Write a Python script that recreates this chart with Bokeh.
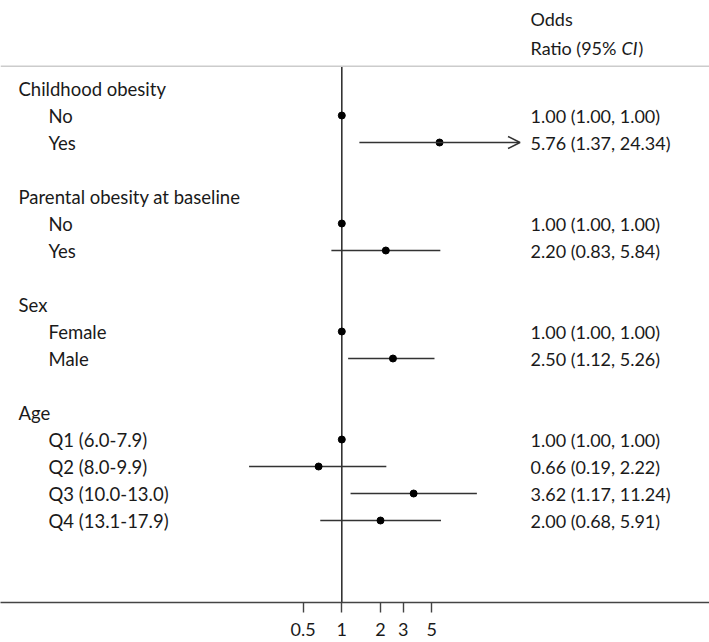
import math
from bokeh.plotting import figure
from bokeh.models import (Range1d, LinearScale, FixedTicker, NumeralTickFormatter,
                          ColumnDataSource, Arrow, OpenHead, Span)
from bokeh.core.properties import value
from bokeh.embed import file_html
from bokeh.resources import INLINE

# ---------------- data ----------------
groups = ["Childhood obesity", "Parental obesity at baseline", "Sex", "Age"]
levels = [["No", "Yes"],
          ["No", "Yes"],
          ["Female", "Male"],
          ["Q1 (6.0-7.9)", "Q2 (8.0-9.9)", "Q3 (10.0-13.0)", "Q4 (13.1-17.9)"]]
odds_ratio = [1.00, 5.76, 1.00, 2.20, 1.00, 2.50, 1.00, 0.66, 3.62, 2.00]
ci_low = [1.00, 1.37, 1.00, 0.83, 1.00, 1.12, 1.00, 0.19, 1.17, 0.68]
ci_high = [1.00, 24.34, 1.00, 5.84, 1.00, 5.26, 1.00, 2.22, 11.24, 5.91]
tick_values = [0.5, 1, 2, 3, 5]
axis_limit = 20  # intervals beyond this are drawn with an arrow

# ---------------- layout ----------------
W, H = 709, 642
FRAME_H = 602
ROW_PX = 27
FIRST_ROW_PX = 88
PX_PER_DOUBLING = 38.7
ONE_PX = 341.3
FONT = value("Lato")
FS = "18px"
FS_LEFT = "18.5px"
TXT = "#1a1a1a"
LINE = "#333333"

# build row structure
grp_rows, grp_names = [], []
lvl_rows, lvl_names = [], []
r = 0
for g, lv in zip(groups, levels):
    grp_rows.append(r)
    grp_names.append(g)
    r += 1
    for l in lv:
        lvl_rows.append(r)
        lvl_names.append(l)
        r += 1
    r += 1

y_top = -FIRST_ROW_PX / ROW_PX
y_bot = (FRAME_H - FIRST_ROW_PX) / ROW_PX
x_start = 2 ** (-ONE_PX / PX_PER_DOUBLING)
x_end = 2 ** ((W - ONE_PX) / PX_PER_DOUBLING)

p = figure(width=W, height=H, x_axis_type="log",
           x_range=Range1d(x_start, x_end), y_range=Range1d(y_bot, y_top),
           output_backend="svg", toolbar_location=None,
           min_border_left=0, min_border_right=0, min_border_top=0,
           min_border_bottom=H - FRAME_H)
p.extra_x_ranges = {"px": Range1d(0, W)}
p.extra_x_scales = {"px": LinearScale()}
p.outline_line_color = None
p.xgrid.visible = False
p.ygrid.visible = False
p.yaxis.visible = False
p.background_fill_color = "white"
p.border_fill_color = "white"

# x axis
ax = p.xaxis[0]
ax.ticker = FixedTicker(ticks=tick_values, minor_ticks=[])
ax.formatter = NumeralTickFormatter(format="0.[0]")
ax.axis_line_color = "#444444"
ax.axis_line_width = 1.6
ax.major_tick_line_color = "#444444"
ax.major_tick_line_width = 1.4
ax.major_tick_out = 10
ax.major_tick_in = 0
ax.minor_tick_line_color = None
ax.major_label_standoff = 10
ax.major_label_text_font = "Lato"
ax.major_label_text_font_size = FS
ax.major_label_text_color = TXT

# header separator
sep_y = (65.7 - FIRST_ROW_PX) / ROW_PX
p.add_layout(Span(location=sep_y, dimension="width", line_color="#cccccc", line_width=1.6))

# reference line at OR = 1
p.segment(x0=[1], x1=[1], y0=[sep_y], y1=[y_bot], line_color=LINE, line_width=1.6)

# intervals
clipped = [h > axis_limit for h in ci_high]
src = ColumnDataSource(dict(y=lvl_rows, est=odds_ratio, lo=ci_low, hi=ci_high))
normal = ColumnDataSource(dict(
    y=[y for y, c in zip(lvl_rows, clipped) if not c],
    lo=[v for v, c in zip(ci_low, clipped) if not c],
    hi=[v for v, c in zip(ci_high, clipped) if not c]))
p.segment(x0="lo", x1="hi", y0="y", y1="y", source=normal, line_color=LINE, line_width=1.5)
arrow_src = ColumnDataSource(dict(
    y=[y for y, c in zip(lvl_rows, clipped) if c],
    lo=[v for v, c in zip(ci_low, clipped) if c],
    hi=[v for v, c in zip(ci_high, clipped) if c]))
p.add_layout(Arrow(end=OpenHead(size=12, line_color=LINE, line_width=1.5),
                   x_start="lo", y_start="y", x_end="hi", y_end="y",
                   line_color=LINE, line_width=1.5, source=arrow_src))
p.scatter(x="est", y="y", source=src, size=7, color="black")

# left labels
p.text(x=[18] * len(grp_rows), y=grp_rows, text=grp_names, x_range_name="px",
       text_font=FONT, text_font_size=FS_LEFT, text_color=TXT, text_baseline="middle")
p.text(x=[48] * len(lvl_rows), y=lvl_rows, text=lvl_names, x_range_name="px",
       text_font=FONT, text_font_size=FS_LEFT, text_color=TXT, text_baseline="middle")

# right column
or_text = [f"{e:.2f} ({l:.2f}, {h:.2f})" for e, l, h in zip(odds_ratio, ci_low, ci_high)]
p.text(x=[530] * len(lvl_rows), y=lvl_rows, text=or_text, x_range_name="px",
       text_font=FONT, text_font_size=FS, text_color=TXT, text_baseline="middle")

hdr1_y = (18 - FIRST_ROW_PX) / ROW_PX
hdr2_y = (47 - FIRST_ROW_PX) / ROW_PX
p.text(x=[530], y=[hdr1_y], text=["Odds"], x_range_name="px",
       text_font=FONT, text_font_size=FS, text_color=TXT, text_baseline="middle")
p.text(x=[530], y=[hdr2_y], text=["Ratio (95%"], x_range_name="px",
       text_font=FONT, text_font_size=FS, text_color=TXT, text_baseline="middle")
p.text(x=[621], y=[hdr2_y], text=["CI"], x_range_name="px",
       text_font=FONT, text_font_size=FS, text_font_style="italic", text_color=TXT,
       text_baseline="middle")
p.text(x=[638], y=[hdr2_y], text=[")"], x_range_name="px",
       text_font=FONT, text_font_size=FS, text_color=TXT, text_baseline="middle")

open("out.html", "w").write(file_html(p, INLINE))
